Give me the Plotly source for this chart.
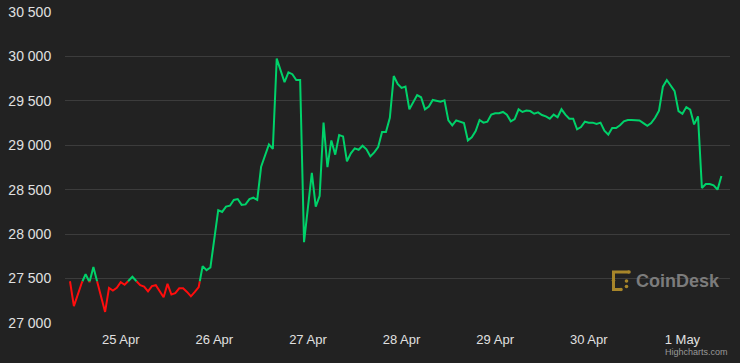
import plotly.graph_objects as go
import pandas as pd

# ---- data (hours since 24 Apr 2023 00:00, BTC price in USD) ----
hours = [11, 12, 14, 15, 16, 17, 18, 20, 21, 22, 23, 24, 25, 27, 29, 30, 31, 32, 33, 35,
         36, 37, 38, 39, 40, 41, 42, 43, 44, 45, 46, 47, 49, 50, 51, 52, 53, 54, 55, 56,
         57, 58, 59, 60, 62, 63, 64, 66, 67, 68, 69, 70, 71, 73, 74, 75, 76, 77, 78, 79,
         80, 81, 82, 83, 84, 85, 86, 87, 88, 89, 90, 91, 92, 93, 94, 95, 96, 97, 98, 100,
         101, 102, 103, 104, 106, 107, 108, 109, 110, 112, 113, 114, 115, 116, 117, 118, 119, 120, 121, 122,
         123, 124, 125, 126, 127, 128, 129, 130, 131, 132, 133, 134, 135, 136, 137, 138, 139, 140, 141, 142,
         143, 144, 145, 146, 147, 148, 149, 150, 151, 152, 153, 154, 155, 156, 157, 158, 159, 160, 161, 162,
         163, 164, 165, 166, 167, 168, 169, 170, 171, 172, 173, 174, 175, 176, 177, 178]
prices = [27470, 27190, 27450, 27550, 27460, 27630, 27460, 27125, 27395, 27365, 27395, 27460, 27430, 27520, 27425, 27410, 27355, 27415, 27425, 27290,
          27440, 27320, 27335, 27390, 27390, 27350, 27300, 27350, 27405, 27640, 27595, 27625, 28270, 28250, 28310, 28320, 28385, 28395, 28330, 28335,
          28395, 28410, 28385, 28760, 29010, 28960, 29975, 29710, 29820, 29800, 29735, 29735, 27910, 28690, 28310, 28430, 29255, 28755, 29055, 28895,
          29115, 29100, 28820, 28910, 28965, 28950, 28995, 28955, 28875, 28920, 28980, 29150, 29150, 29310, 29780, 29690, 29645, 29660, 29405, 29565,
          29540, 29405, 29435, 29510, 29490, 29505, 29280, 29225, 29280, 29250, 29055, 29090, 29160, 29285, 29255, 29265, 29345, 29360, 29360, 29375,
          29345, 29270, 29295, 29405, 29375, 29390, 29385, 29355, 29370, 29340, 29325, 29300, 29345, 29315, 29405, 29345, 29300, 29300, 29180, 29205,
          29265, 29255, 29255, 29240, 29255, 29165, 29120, 29195, 29195, 29225, 29270, 29285, 29285, 29285, 29280, 29250, 29220, 29250, 29310, 29390,
          29660, 29735, 29675, 29610, 29385, 29355, 29430, 29400, 29235, 29325, 28520, 28565, 28565, 28550, 28500, 28655]

y_ticks = [27000, 27500, 28000, 28500, 29000, 29500, 30000, 30500]
start = pd.Timestamp("2023-04-24 00:00")
threshold = prices[0]  # opening price: above -> green, below -> red

GREEN = "#00d26a"
RED = "#ff0d0d"
BG = "#222222"

# insert threshold crossings so each colour segment meets exactly at the threshold
xs, ys = [], []
for i in range(len(hours)):
    if i > 0:
        h0, p0, h1, p1 = hours[i - 1], prices[i - 1], hours[i], prices[i]
        if (p0 - threshold) * (p1 - threshold) < 0:
            t = (threshold - p0) / (p1 - p0)
            xs.append(h0 + t * (h1 - h0))
            ys.append(threshold)
    xs.append(hours[i])
    ys.append(prices[i])

times = [start + pd.Timedelta(hours=h) for h in xs]
green_y = [y if y >= threshold else None for y in ys]
red_y = [y if y <= threshold else None for y in ys]

fig = go.Figure()
fig.add_trace(go.Scatter(x=times, y=red_y, mode="lines", line=dict(color=RED, width=2),
                         connectgaps=False, hoverinfo="skip", showlegend=False))
fig.add_trace(go.Scatter(x=times, y=green_y, mode="lines", line=dict(color=GREEN, width=2),
                         connectgaps=False, hoverinfo="skip", showlegend=False))

W, H = 740, 363
ML, MR, MT, MB = 65, 10, 12, 40
PW, PH = W - ML - MR, H - MT - MB


def px(x):
    return (x - ML) / PW


def py(y):
    return (H - MB - y) / PH


gold = "#a8862a"
shapes = [
    dict(type="path", xref="paper", yref="paper",
         path=f"M {px(629)},{py(272)} L {px(613.5)},{py(272)} L {px(613.5)},{py(289.5)} L {px(621)},{py(289.5)}",
         line=dict(color=gold, width=3)),
]
for (cx, cy) in [(629, 272), (621, 289.5), (626.5, 281), (626.5, 286.5), (613.5, 280.5)]:
    r = 1.8
    shapes.append(dict(type="circle", xref="paper", yref="paper",
                       x0=px(cx - r), x1=px(cx + r), y0=py(cy + r), y1=py(cy - r),
                       fillcolor=gold, line=dict(width=0)))

fig.update_layout(
    width=W, height=H,
    margin=dict(l=ML, r=MR, t=MT, b=MB, autoexpand=False),
    paper_bgcolor=BG, plot_bgcolor=BG,
    separators=". ",
    font=dict(family="Liberation Sans, Arial, sans-serif", color="#e0e0e0", size=13),
    showlegend=False,
    shapes=shapes,
    annotations=[
        dict(text="<b>CoinDesk</b>", xref="paper", yref="paper", x=px(634), y=py(281),
             xanchor="left", yanchor="middle", showarrow=False,
             font=dict(size=18, color="#7c7c7c", family="Liberation Sans, Arial, sans-serif")),
        dict(text="Highcharts.com", xref="paper", yref="paper", x=1, y=py(352),
             xanchor="right", yanchor="middle", showarrow=False,
             font=dict(size=9, color="#999999")),
    ],
)
fig.update_xaxes(
    range=[start + pd.Timedelta(hours=9.72), start + pd.Timedelta(hours=180.2)],
    tick0="2023-04-25", dtick=86400000, tickformat="%-d %b",
    showgrid=False, zeroline=False, showline=False, automargin=False,
    ticks="outside", ticklen=4, tickcolor="rgba(0,0,0,0)",
    tickfont=dict(size=13, color="#e0e0e0"),
)
fig.update_yaxes(
    range=[27000, 30500], tickvals=y_ticks, tickformat=",d",
    showgrid=True, gridcolor="#3c3c3c", gridwidth=1, zeroline=False, showline=False, automargin=False,
    ticks="outside", ticklen=10, tickcolor="rgba(0,0,0,0)",
    tickfont=dict(size=14, color="#e0e0e0"),
)

fig.write_html("out.html")
